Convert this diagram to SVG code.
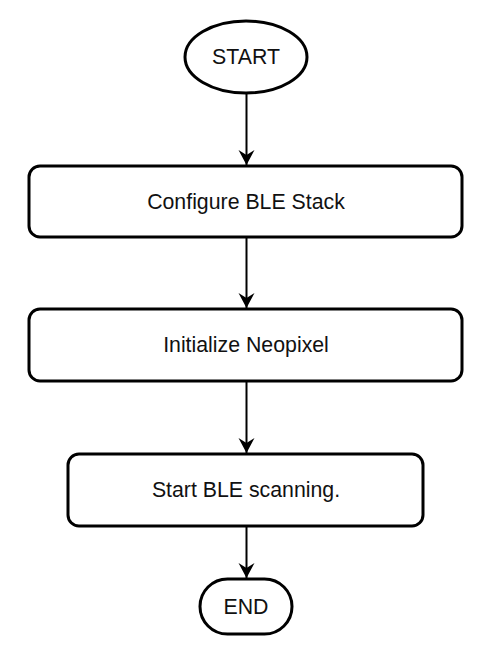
<svg xmlns="http://www.w3.org/2000/svg" width="502" height="671" viewBox="0 0 502 671">
<style>
.shape{fill:#fff;stroke:#000;stroke-width:3}
.lbl{font-family:"Liberation Sans",Arial,sans-serif;font-size:21.3px;fill:#111;text-anchor:middle;dominant-baseline:central}
.conn{fill:none;stroke:#000;stroke-width:2}
</style>
<defs>
<marker id="arr" markerUnits="userSpaceOnUse" markerWidth="20" markerHeight="20" viewBox="-17 -10 20 20" refX="0" refY="0" orient="auto">
<path d="M0,0 L-15,-8 L-10,0 L-15,8 Z" fill="#000"/>
</marker>
</defs>
<rect width="502" height="671" fill="#fff"/>
<g id="connectors">
<line class="conn" x1="246.5" y1="93" x2="246.5" y2="165" marker-end="url(#arr)"/>
<line class="conn" x1="246.5" y1="237" x2="246.5" y2="308" marker-end="url(#arr)"/>
<line class="conn" x1="246.5" y1="381" x2="246.5" y2="453" marker-end="url(#arr)"/>
<line class="conn" x1="246.5" y1="526" x2="246.5" y2="578" marker-end="url(#arr)"/>
</g>
<g id="start">
<ellipse class="shape" cx="246" cy="57" rx="61" ry="36"/>
<text class="lbl" x="246" y="57">START</text>
</g>
<g id="configure">
<rect class="shape" x="29" y="166" width="433" height="71" rx="11"/>
<text class="lbl" x="246" y="202">Configure BLE Stack</text>
</g>
<g id="init">
<rect class="shape" x="29" y="309" width="433" height="72" rx="11"/>
<text class="lbl" x="246" y="345">Initialize Neopixel</text>
</g>
<g id="scan">
<rect class="shape" x="68" y="454" width="355" height="72" rx="11"/>
<text class="lbl" x="246" y="490">Start BLE scanning.</text>
</g>
<g id="end">
<rect class="shape" x="200" y="579" width="92" height="55" rx="27.5"/>
<text class="lbl" x="246" y="607">END</text>
</g>
</svg>
